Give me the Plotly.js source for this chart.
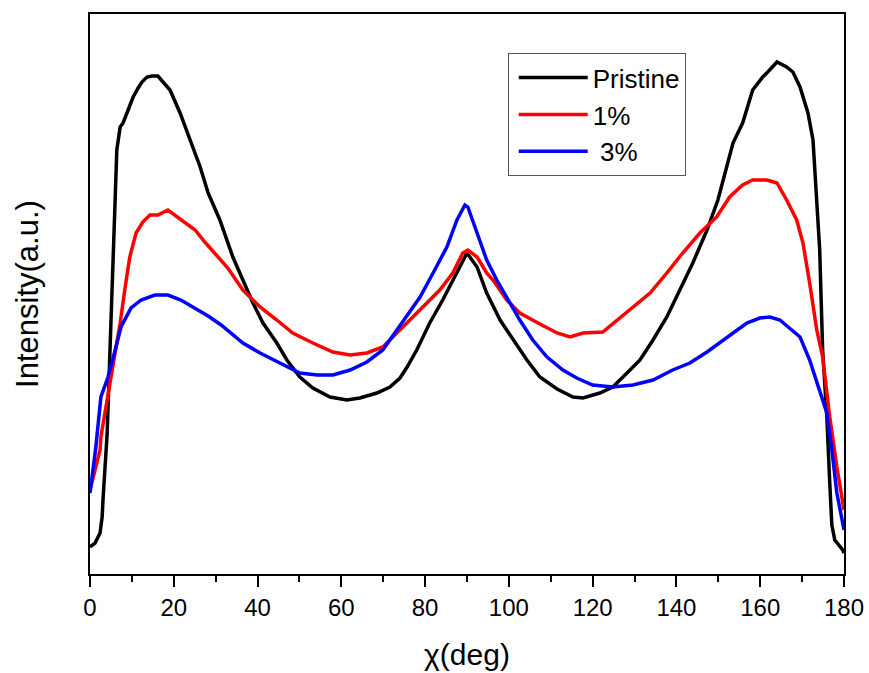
<!DOCTYPE html>
<html>
<head>
<meta charset="utf-8">
<script src="https://cdn.plot.ly/plotly-3.0.1.min.js"></script>
<style>html,body{margin:0;padding:0;background:#fff;}#chart{width:869px;height:673px;}</style>
</head>
<body>
<div id="chart"></div>
<script>
// Pristine
const chiPristine = [0,1.2,2.4,2.9,3.1,3.6,4.1,6.0,6.4,7.2,7.9,9.1,10.3,11.5,12.4,13.6,14.8,16.2,17.4,19.1,21.5,23.9,26.3,28.2,31.0,34.1,36.5,38.9,41.3,44.6,47.0,50.1,53.2,57.3,61.3,64.4,68.5,71.6,74.0,75.7,78.0,81.1,84.2,87.6,90.0,92.4,94.7,97.9,101.0,104.3,107.4,111.5,115.3,117.7,121.7,124.8,128.2,131.3,134.4,137.7,140.8,143.9,147.3,149.9,153.5,155.8,158.2,160.6,161.8,164.0,166.3,167.8,169.5,171.4,172.6,173.5,174.2,174.9,175.9,176.6,177.1,177.8,179.7,180];
const intPristine = [27,31,41,57,74,107,141,374,424,447,451,464,477,486,492,497,498,498,492,484,461,434,407,381,354,317,294,271,251,231,214,197,186,177,174,176,181,187,196,207,224,251,274,301,321,307,281,254,234,214,197,185,177,176,181,187,201,214,234,257,284,311,344,374,431,451,484,497,502,512,507,502,487,461,434,374,324,224,157,91,49,34,24,21];
// 1%
const chi1 = [0,2.4,2.6,5.0,7.2,8.4,9.5,11.0,12.6,14.3,16.2,18.6,21.0,22.7,25.1,27.4,29.8,32.9,36.5,40.6,44.6,48.4,53.2,58.0,62.1,66.1,69.9,74.0,78.8,83.5,86.6,89.0,90.2,92.4,94.7,96.2,99.5,102.6,107.4,111.5,114.6,117.7,122.4,125.8,129.6,133.7,137.7,141.5,145.6,149.6,152.7,155.8,158.2,161.6,164.0,166.3,168.7,170.2,171.8,173.5,174.9,176.6,178.3,180];
const int1 = [84,124,137,194,251,287,317,341,352,359,359,364,357,352,344,332,321,306,284,267,254,241,231,222,219,221,227,244,264,284,301,321,324,317,301,294,274,261,250,241,237,241,242,254,267,281,301,321,341,357,377,389,394,394,391,374,354,331,291,244,217,157,107,64];
// 3%
const chi3 = [0,1.4,2.6,4.3,6.2,7.4,9.8,12.2,15.5,18.6,21.7,25.1,28.2,31.3,32.7,36.5,40.6,45.3,50.1,54.2,58.0,62.1,66.1,69.9,74.0,78.8,81.9,85.2,87.6,89.5,90.2,92.4,94.7,97.1,99.5,102.6,105.7,109.1,112.9,116.2,120.0,124.8,129.6,134.4,139.1,143.2,147.3,151.1,155.1,156.8,159.9,162.3,164.7,167.1,169.5,171.8,174.2,175.9,177.1,178.3,180];
const int3 = [81,127,177,197,227,247,266,274,279,279,274,266,258,249,244,231,221,211,201,199,199,204,212,224,249,277,301,327,354,369,367,341,314,294,277,254,234,217,204,196,189,187,189,194,204,211,222,234,246,251,256,257,254,246,237,214,184,161,124,81,44];

const seriesNames = ['Pristine', '1%', ' 3%'];
const xTitle = 'χ(deg)';
const yTitle = 'Intensity(a.u.)';

const FONT = 'Liberation Sans, Arial, sans-serif';
const traces = [
  {x: chiPristine, y: intPristine, name: seriesNames[0], line: {color: '#000000', width: 3.5}},
  {x: chi1, y: int1, name: seriesNames[1], line: {color: '#ff0000', width: 3.5}},
  {x: chi3, y: int3, name: seriesNames[2], line: {color: '#0000ff', width: 3.5}}
].map(t => Object.assign({type: 'scatter', mode: 'lines'}, t));

const layout = {
  width: 869, height: 673,
  margin: {l: 90, r: 25, t: 14, b: 99},
  paper_bgcolor: '#ffffff', plot_bgcolor: '#ffffff',
  font: {family: FONT, color: '#000000'},
  showlegend: true,
  legend: {
    x: 0.554, y: 0.93, xanchor: 'left', yanchor: 'top',
    bgcolor: '#ffffff', bordercolor: '#555555', borderwidth: 1,
    font: {family: FONT, size: 26, color: '#000'},
    itemwidth: 74,
    tracegroupgap: 0
  },
  xaxis: {
    range: [0, 180], dtick: 20, tick0: 0,
    showline: true, linecolor: '#000', linewidth: 2, mirror: true,
    ticks: 'outside', ticklen: 11, tickwidth: 2, tickcolor: '#000',
    minor: {dtick: 10, ticks: 'outside', ticklen: 6, tickwidth: 2, tickcolor: '#000'},
    showgrid: false, zeroline: false,
    tickfont: {family: FONT, size: 24, color: '#000'},
    title: {text: xTitle, font: {family: FONT, size: 30, color: '#000'}, standoff: 24}
  },
  yaxis: {
    range: [0, 560],
    showline: true, linecolor: '#000', linewidth: 2, mirror: true,
    ticks: '', showticklabels: false, showgrid: false, zeroline: false,
    title: {text: yTitle, font: {family: FONT, size: 31, color: '#000'}, standoff: 40}
  }
};

Plotly.newPlot('chart', traces, layout, {displayModeBar: false, staticPlot: true}).then(function () {
  // lengthen the legend sample lines to match the reference legend
  document.querySelectorAll('.legend .legendlines path').forEach(function (p) {
    p.setAttribute('d', 'M10,0h69');
  });
});
</script>
</body>
</html>
